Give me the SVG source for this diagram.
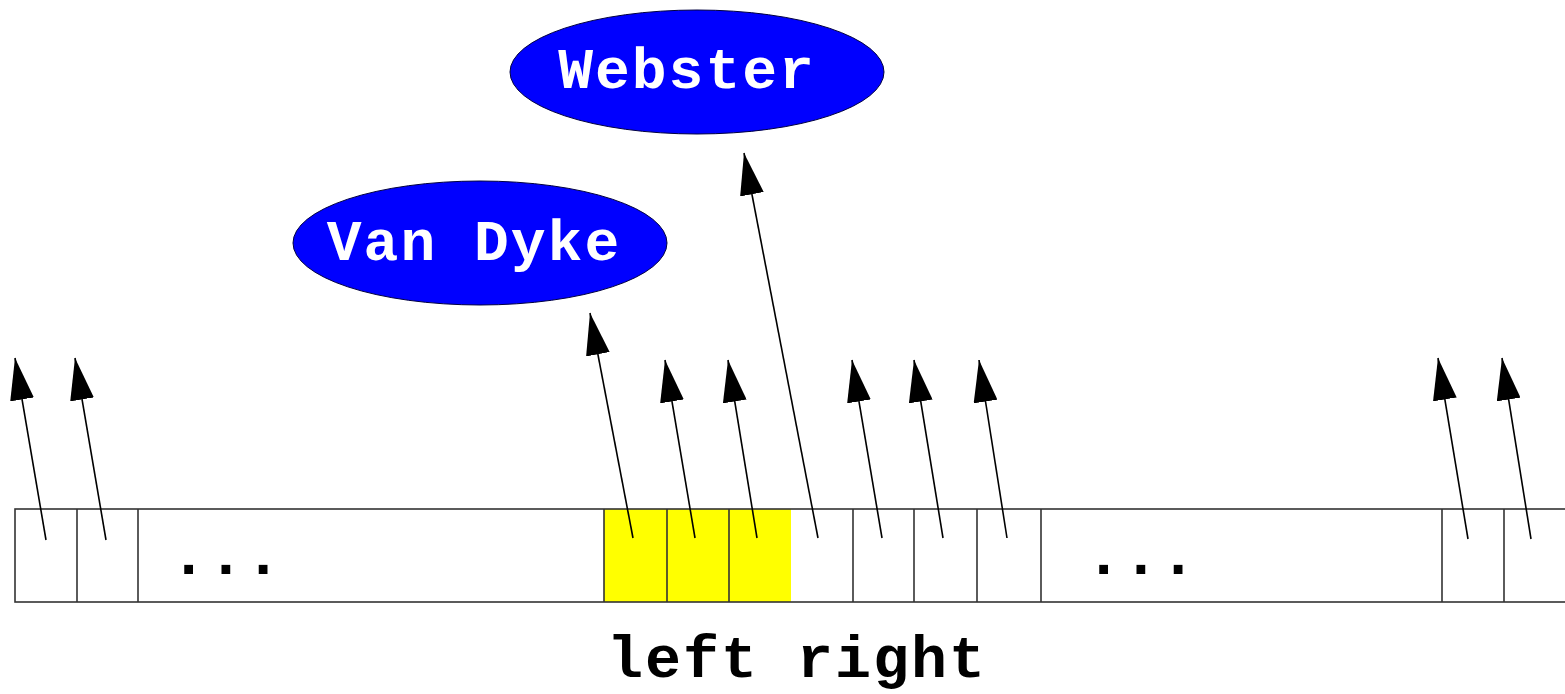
<svg xmlns="http://www.w3.org/2000/svg" width="1565" height="694" viewBox="0 0 1565 694">
<style>
.bg{fill:#fff}
.node{fill:#0000ff;stroke:#000040;stroke-width:1}
.lbl{font-family:"Liberation Mono","Courier New",monospace;font-size:58px;font-weight:bold;letter-spacing:2px;fill:#fff;text-anchor:middle}
.cell{fill:none;stroke:#333;stroke-width:1.6}
.yel{fill:#ffff00;stroke:none}
.dots{font-family:"Liberation Mono","Courier New",monospace;font-size:62px;font-weight:bold;fill:#000}
.cap{font-family:"Liberation Mono","Courier New",monospace;font-size:60px;font-weight:bold;letter-spacing:2px;fill:#000}
.arr{stroke:#000;stroke-width:1.6;fill:none;marker-end:url(#ah)}
</style>
<defs>
<marker id="ah" markerUnits="userSpaceOnUse" viewBox="0 0 42 24" markerWidth="42" markerHeight="24" refX="42" refY="12" orient="auto">
<path d="M0,0 L42,12 L0,24 z" fill="#000"/>
</marker>
</defs>
<rect class="bg" x="0" y="0" width="1565" height="694"/>
<g id="array">
<rect class="yel" x="604" y="509" width="187" height="93"/>
<rect class="cell" x="15" y="509" width="1552" height="93"/>
<line class="cell" x1="77" y1="509" x2="77" y2="602"/>
<line class="cell" x1="138" y1="509" x2="138" y2="602"/>
<line class="cell" x1="604" y1="509" x2="604" y2="602"/>
<line class="cell" x1="667" y1="509" x2="667" y2="602"/>
<line class="cell" x1="729" y1="509" x2="729" y2="602"/>
<line class="cell" x1="853" y1="509" x2="853" y2="602"/>
<line class="cell" x1="914" y1="509" x2="914" y2="602"/>
<line class="cell" x1="977" y1="509" x2="977" y2="602"/>
<line class="cell" x1="1041" y1="509" x2="1041" y2="602"/>
<line class="cell" x1="1442" y1="509" x2="1442" y2="602"/>
<line class="cell" x1="1504" y1="509" x2="1504" y2="602"/>
<text class="dots" x="170" y="574">...</text>
<text class="dots" x="1085" y="574">...</text>
</g>
<g id="webster">
<ellipse class="node" cx="697" cy="72" rx="187" ry="62"/>
<text class="lbl" x="687" y="88">Webster</text>
</g>
<g id="vandyke">
<ellipse class="node" cx="480" cy="243" rx="187" ry="62"/>
<text class="lbl" x="474" y="260">Van Dyke</text>
</g>
<g id="caption">
<text class="cap" x="607" y="677">left right</text>
</g>
<g id="connectors">
<line class="arr" x1="46" y1="540" x2="15" y2="358"/>
<line class="arr" x1="106" y1="540" x2="75" y2="358"/>
<line class="arr" x1="633" y1="538" x2="590" y2="313"/>
<line class="arr" x1="695" y1="538" x2="665" y2="360"/>
<line class="arr" x1="757" y1="538" x2="728" y2="360"/>
<line class="arr" x1="818" y1="538" x2="744" y2="153"/>
<line class="arr" x1="882" y1="538" x2="852" y2="360"/>
<line class="arr" x1="943" y1="538" x2="914" y2="360"/>
<line class="arr" x1="1007" y1="538" x2="979" y2="360"/>
<line class="arr" x1="1468" y1="539" x2="1438" y2="358"/>
<line class="arr" x1="1531" y1="539" x2="1502" y2="358"/>
</g>
</svg>
